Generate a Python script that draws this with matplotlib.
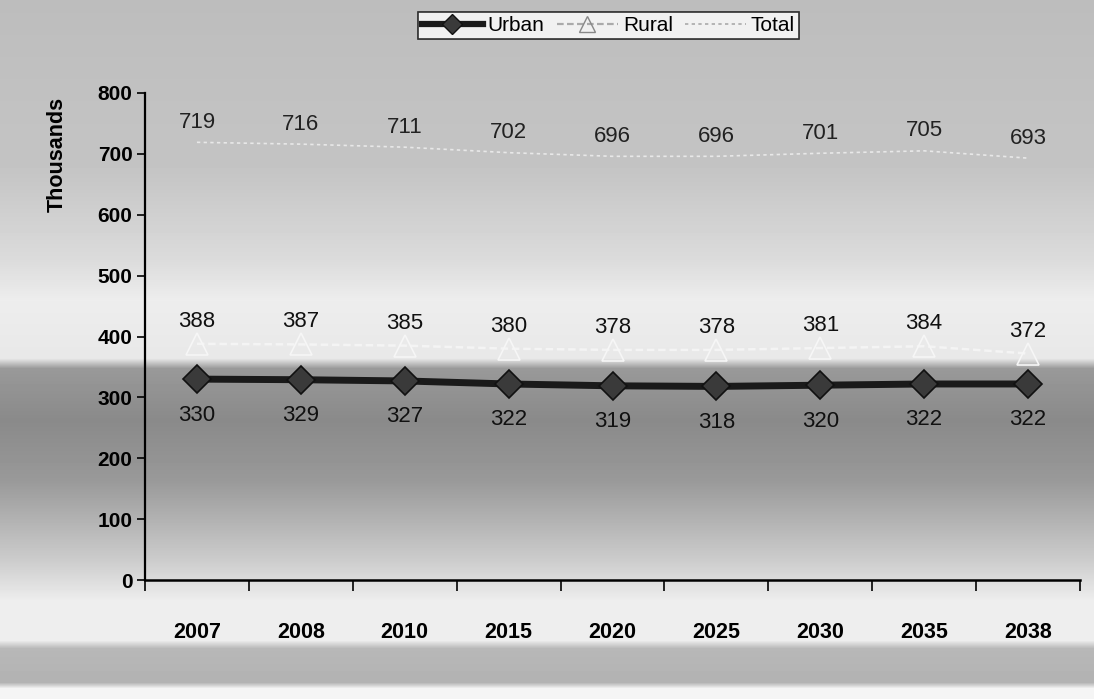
import matplotlib
matplotlib.use("Agg")
import matplotlib.pyplot as plt
import numpy as np
from matplotlib.lines import Line2D

plt.rcParams["font.family"] = ["Liberation Sans", "DejaVu Sans"]

years = ["2007", "2008", "2010", "2015", "2020", "2025", "2030", "2035", "2038"]
urban = [330, 329, 327, 322, 319, 318, 320, 322, 322]
rural = [388, 387, 385, 380, 378, 378, 381, 384, 372]
total = [719, 716, 711, 702, 696, 696, 701, 705, 693]

W, H = 1094, 699
fig = plt.figure(figsize=(W / 100, H / 100), dpi=100)

# scanned-paper style shading (brightness per pixel row, top to bottom)
bg = fig.add_axes([0, 0, 1, 1], zorder=-10)
ypix = np.arange(H)
anchors_y = [0, 170, 260, 300, 358, 368, 420, 480, 560, 600, 640, 648, 682, 688, 699]
anchors_v = [0.74, 0.77, 0.86, 0.93, 0.91, 0.60, 0.54, 0.60, 0.80, 0.93, 0.93, 0.72, 0.70, 0.96, 0.96]
vals = np.interp(ypix, anchors_y, anchors_v)
img = np.tile(vals[:, None], (1, 10))
bg.imshow(img, cmap="gray", vmin=0, vmax=1, aspect="auto", extent=[0, 1, 0, 1],
          origin="upper")
bg.set_axis_off()

ax = fig.add_axes([145 / W, 1 - 580 / H, (1080 - 145) / W, (580 - 93) / H])
ax.patch.set_alpha(0)
x = np.arange(len(years))

ax.plot(x, total, color="#e8e8e8", lw=1.2, ls=(0, (2, 2)), zorder=2)
ax.plot(x, rural, color="#f4f4f4", lw=1.8, ls=(0, (3, 1.5)), marker="^", ms=16,
        mfc="none", mec="#f6f6f6", mew=1.2, zorder=3)
ax.plot(x, urban, color="#1a1a1a", lw=5, marker="D", ms=14, mfc="#3a3a3a",
        mec="#111111", mew=1.2, zorder=4)

for xi, v in zip(x, total):
    ax.text(xi, v + 33, str(v), ha="center", va="center", fontsize=16, color="#222222")
for xi, v in zip(x, rural):
    ax.text(xi, v + 37, str(v), ha="center", va="center", fontsize=16, color="#111111")
for xi, v in zip(x, urban):
    ax.text(xi, v - 59, str(v), ha="center", va="center", fontsize=16, color="#111111")

ax.set_xlim(-0.5, len(years) - 0.5)
ax.set_ylim(0, 800)
ax.set_yticks(range(0, 801, 100))
ax.set_yticklabels([str(t) for t in range(0, 801, 100)], fontsize=15, fontweight="bold")
ax.set_xticks(x)
ax.set_xticklabels(years, fontsize=15.5, fontweight="bold")
ax.set_xticks(np.arange(-0.5, len(years)), minor=True)
ax.tick_params(axis="x", which="major", length=0, pad=30)
ax.tick_params(axis="x", which="minor", length=8, direction="out", width=1.2)
ax.tick_params(axis="y", length=6, direction="out", width=1.2, pad=3)
for s in ["top", "right"]:
    ax.spines[s].set_visible(False)
ax.spines["left"].set_linewidth(1.6)
ax.spines["bottom"].set_linewidth(1.8)
ax.set_ylabel("Thousands", fontsize=15.5, fontweight="bold")
ax.yaxis.set_label_coords(-0.083, 0.873)

handles = [
    Line2D([], [], color="#1a1a1a", lw=4.5, marker="D", ms=10, mfc="#3a3a3a", mec="#111111"),
    Line2D([], [], color="#aaaaaa", lw=1.6, ls=(0, (3, 1.5)), marker="^", ms=12, mfc="none", mec="#888888"),
    Line2D([], [], color="#aaaaaa", lw=1.2, ls=(0, (2, 2))),
]
leg = fig.legend(handles, ["Urban", "Rural", "Total"], loc="upper left",
                 bbox_to_anchor=(418 / W, 1 - 12 / H), ncol=3, fontsize=15, frameon=True,
                 fancybox=False, handlelength=2.9, columnspacing=0.6, handletextpad=0.25,
                 borderpad=0.2, borderaxespad=0)
leg.get_frame().set_edgecolor("black")
leg.get_frame().set_facecolor("white")
leg.get_frame().set_linewidth(1.2)

fig.savefig("out.png", dpi=100)
